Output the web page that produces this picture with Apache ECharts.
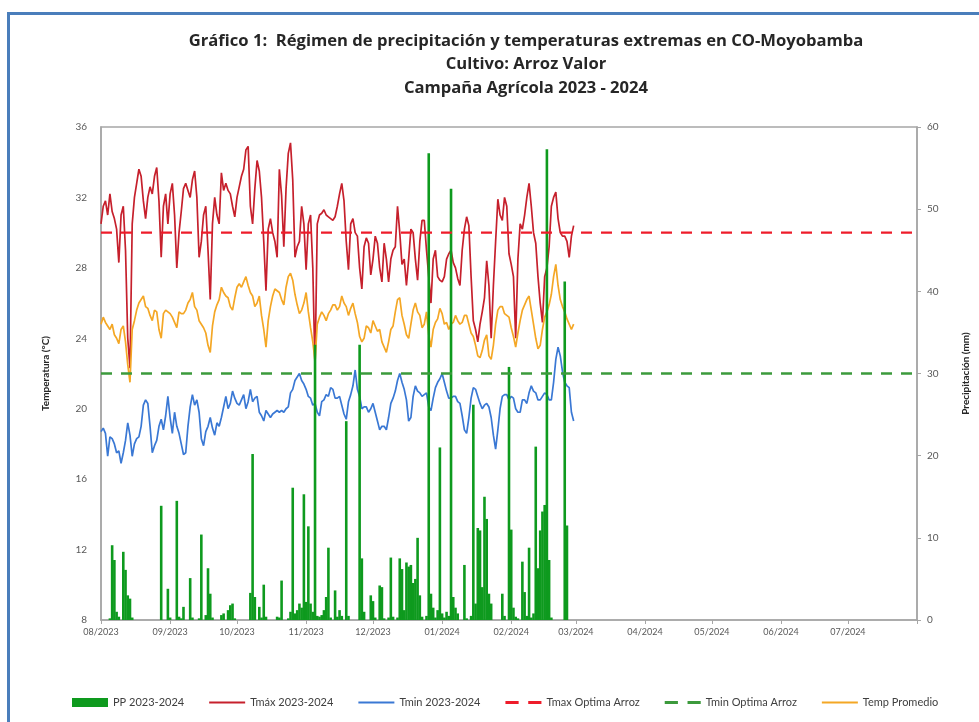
<!DOCTYPE html>
<html>
<head>
<meta charset="utf-8">
<title>Gráfico 1 - CO-Moyobamba</title>
<script src="https://cdn.jsdelivr.net/npm/echarts@6/dist/echarts.min.js"></script>
<style>
  html, body { margin: 0; padding: 0; background: #fff; }
  #chart { width: 979px; height: 722px; }
</style>
</head>
<body>
<div id="chart"></div>
<script>
// daily series from 01/08/2023 to 29/02/2024
const tmax = [
  30.5,31.5,31.8,31.0,32.2,31.2,30.8,30.2,28.3,31.0,
  31.5,29.0,24.0,22.3,30.5,32.0,32.8,33.6,33.2,31.8,
  30.8,32.0,32.6,32.2,33.2,33.7,31.8,28.6,31.5,32.2,
  30.5,32.2,32.8,31.0,28.0,30.0,31.2,32.5,32.8,32.4,
  32.0,33.0,33.5,32.0,28.6,29.5,31.0,31.5,29.0,26.2,
  30.5,32.0,31.0,30.5,33.4,32.4,32.8,32.4,32.2,31.5,
  30.9,32.0,32.6,33.2,33.6,34.7,34.9,31.5,30.5,32.5,
  34.1,33.5,32.0,29.5,26.7,30.2,30.8,30.0,29.5,28.6,
  33.6,32.1,29.2,32.5,34.5,35.1,33.0,28.6,29.2,29.5,
  31.5,30.5,27.9,30.5,31.0,28.0,22.2,30.5,31.0,31.1,
  31.3,31.0,30.9,30.8,30.7,30.9,31.5,32.2,32.8,31.8,
  29.5,27.9,30.5,30.8,30.0,29.8,28.0,26.8,29.2,29.7,
  29.4,27.6,28.5,29.8,29.4,28.0,27.2,29.4,28.5,27.2,
  28.5,29.0,29.2,31.5,30.0,28.2,28.5,27.0,28.5,30.2,
  30.0,28.5,27.3,29.5,30.7,30.7,29.0,27.5,26.0,28.5,
  29.0,27.5,27.3,27.2,27.5,28.5,28.8,29.0,28.3,28.0,
  27.4,27.0,29.0,30.2,30.9,30.4,27.5,25.0,24.5,23.8,
  24.8,25.5,26.3,28.4,27.0,24.0,27.0,29.5,31.9,31.0,
  30.7,32.0,31.5,28.8,28.2,27.5,24.0,28.5,30.5,30.2,
  31.0,32.0,32.8,31.5,30.0,29.4,27.5,26.0,24.9,27.5,
  28.0,29.2,31.5,32.0,32.3,30.8,30.0,29.8,29.8,29.5,
  28.6,29.8,30.4
];

const tmin = [
  18.7,18.9,18.6,17.3,18.4,18.3,18.0,17.5,17.6,16.9,
  17.5,18.2,19.2,18.5,17.3,18.0,18.3,18.4,19.0,20.2,
  20.5,20.3,19.0,17.5,17.9,18.2,19.0,19.4,18.8,19.6,
  20.7,19.5,18.6,19.8,19.0,18.6,18.0,17.4,17.5,19.0,
  20.1,20.8,20.2,20.5,19.8,18.3,17.9,18.7,19.0,19.5,
  18.9,18.5,19.2,19.0,19.5,20.1,20.7,20.0,20.3,21.0,
  20.6,20.3,20.2,20.5,20.8,20.0,20.4,21.1,20.4,20.6,
  20.7,19.8,19.6,19.3,19.9,19.7,19.5,19.7,19.8,19.9,
  19.8,19.9,19.8,20.0,20.1,20.9,21.1,21.6,21.8,22.0,
  21.6,21.4,21.1,20.7,20.6,20.2,20.3,19.8,19.6,20.4,
  20.5,20.8,20.7,21.2,21.1,20.6,20.6,20.7,20.2,19.7,
  19.4,20.4,20.8,21.3,22.2,21.1,20.7,20.0,20.1,20.1,
  19.8,20.0,20.3,19.8,19.3,18.8,19.0,19.0,18.8,19.5,
  20.3,20.6,21.0,21.6,22.0,21.5,21.1,20.5,19.3,19.5,
  20.7,21.3,21.0,20.9,20.7,20.8,20.9,20.1,19.9,20.6,
  21.2,21.5,21.7,22.0,21.5,21.0,20.6,20.6,20.7,20.7,
  20.4,20.3,19.6,18.8,18.6,19.5,20.6,21.2,21.1,20.7,
  20.3,20.0,20.2,20.3,20.1,19.5,18.5,17.7,18.8,20.0,
  20.7,20.8,20.8,20.5,20.7,20.6,20.0,19.8,19.8,20.5,
  20.5,20.3,20.9,21.3,21.0,20.9,20.5,20.5,20.7,20.9,
  20.8,20.5,20.5,21.5,22.8,23.5,23.0,22.1,21.5,21.3,
  21.2,19.8,19.3
];

const tprom = [
  24.8,25.2,24.9,24.7,24.5,24.8,24.2,24.0,23.7,24.5,
  24.7,23.8,22.5,21.5,24.5,25.0,25.6,26.0,26.2,26.4,
  25.8,25.7,25.3,25.0,25.6,25.5,24.5,24.0,25.4,25.6,
  25.5,25.4,25.2,24.9,24.6,25.5,25.4,25.4,25.6,26.0,
  26.2,26.6,25.8,25.6,25.0,24.8,24.6,24.3,23.6,23.2,
  24.7,25.5,25.9,26.2,26.9,26.6,26.4,26.3,25.8,25.6,
  26.3,26.9,27.1,26.9,27.2,27.5,27.0,26.6,26.4,25.8,
  26.0,26.4,25.3,24.5,23.5,25.0,25.8,26.4,26.8,26.7,
  26.6,26.2,25.9,26.9,27.5,27.7,27.3,26.5,25.9,25.4,
  25.6,26.0,26.6,25.5,24.6,23.8,22.7,24.8,25.2,25.5,
  25.3,25.0,25.4,25.6,25.9,25.9,25.6,25.8,26.4,26.0,
  25.8,25.3,25.7,26.0,25.4,24.9,24.1,23.8,24.0,24.7,
  24.6,24.3,25.0,24.7,24.4,24.5,23.8,23.5,23.2,23.8,
  24.5,24.7,25.5,26.2,26.3,25.3,24.8,24.2,24.0,24.8,
  25.6,26.0,25.5,25.3,24.6,24.8,25.5,24.2,23.5,24.5,
  24.9,25.1,25.7,25.4,24.8,24.9,24.5,24.8,24.9,25.3,
  25.0,24.8,24.9,25.3,25.3,24.8,24.3,24.1,23.6,23.0,
  22.9,23.3,23.9,24.2,23.0,22.8,23.6,24.8,25.6,25.8,
  25.8,25.4,25.3,25.2,24.6,24.1,23.5,24.3,25.0,25.6,
  25.9,26.2,26.4,25.6,24.8,24.0,23.4,23.6,24.5,25.2,
  25.5,25.9,26.5,27.5,28.2,27.0,26.2,25.8,25.5,25.1,
  24.8,24.5,24.8
];

const pp = [
  0,0,0,0,0.2,9.1,7.3,1.0,0.4,0,
  8.3,6.1,3.0,2.6,0.3,0,0,0,0,0,
  0,0,0,0,0,0,0,13.9,0,0,
  3.8,0.3,0,0,14.5,0.4,0.2,1.6,0,0,
  5.1,0.3,0,0,0.2,10.4,0,0.6,6.3,3.2,
  0.3,0,0,0,0.6,0.8,0,1.2,1.8,2.0,
  0.2,0,0,0,0,0,0,3.3,20.2,2.8,
  0,1.6,0.3,4.3,0.4,0,0,0,0,0.4,
  0.3,4.8,0,0,0.2,1.0,16.1,0.8,1.2,2.0,
  1.5,15.3,2.2,11.4,2.0,1.0,33.5,0.5,0.4,0.6,
  1.2,2.8,8.8,0.3,0,3.6,0.4,1.2,0.5,0,
  24.2,0.5,0,0,0,0,33.5,7.5,1.0,0,
  0,3.0,2.3,0.3,0,4.2,4.0,0.2,0,0.3,
  7.6,0.4,0,0.3,7.5,6.2,1.2,7.0,6.5,6.7,
  4.5,5.0,10.0,3.0,0.4,0,0.5,56.8,3.2,1.5,
  0.3,1.2,21.0,0.8,0.3,1.0,0.5,52.5,2.8,1.5,
  0.8,0,0,6.7,0.2,0,0.5,26.2,2.0,11.2,
  10.9,4.0,15.0,12.3,3.2,2.0,0,0,0,0,
  3.2,0.5,0,30.8,11.0,1.5,0.4,0.2,0,7.1,
  3.4,0.5,8.8,0.3,0.8,21.1,6.3,10.9,13.2,14.0,
  57.3,7.3,0.3,0,0,0,0,0,41.2,11.5,
  0,0,0
];

const tmaxOptima = 30;
const tminOptima = 22;

const monthLabels = ['08/2023','09/2023','10/2023','11/2023','12/2023','01/2024',
  '02/2024','03/2024','04/2024','05/2024','06/2024','07/2024'];

const toDate = lbl => {
  const [m, y] = lbl.split('/').map(Number);
  return new Date(y, m - 1, 1).getTime();
};
const monthTicks = monthLabels.map(toDate);
const axisStart = monthTicks[0];
const axisEnd = new Date(2024, 7, 1).getTime();

const days = tmax.map((_, i) => new Date(2023, 7, 1 + i).getTime());
const pair = arr => arr.map((v, i) => [days[i], v]);

const font = 'Lato, "Liberation Sans", sans-serif';
const titleFont = 'bold 16.6px "Open Sans", "Liberation Sans", sans-serif';
// legend icons: plain stroke and dashed stroke
const solidIcon = 'path://M0,0H36V2.2H0Z';
const dashIcon = 'path://M0,0H11V2.6H0Z M19,0H30V2.6H19Z';

const chart = echarts.init(document.getElementById('chart'), null, { renderer: 'canvas' });

chart.setOption({
  backgroundColor: '#ffffff',
  animation: false,
  textStyle: { fontFamily: font },
  graphic: [
    {
      type: 'rect', z: -10, silent: true,
      shape: { x: 8.5, y: 13.5, width: 1200, height: 1000 },
      style: { fill: 'none', stroke: '#4a7ebb', lineWidth: 3 }
    },
    { type: 'text', x: 526, y: 41, style: { text: 'Gráfico 1:  Régimen de precipitación y temperaturas extremas en CO-Moyobamba', textAlign: 'center', textVerticalAlign: 'middle', font: titleFont, fill: '#262626' } },
    { type: 'text', x: 526, y: 64, style: { text: 'Cultivo: Arroz Valor', textAlign: 'center', textVerticalAlign: 'middle', font: titleFont, fill: '#262626' } },
    { type: 'text', x: 526, y: 88, style: { text: 'Campaña Agrícola 2023 - 2024', textAlign: 'center', textVerticalAlign: 'middle', font: titleFont, fill: '#262626' } }
  ],
  grid: {
    left: 101, right: 61, top: 127, bottom: 102,
    show: true, borderColor: '#a6a6a6', borderWidth: 1.5, backgroundColor: 'transparent'
  },
  legend: {
    bottom: 9,
    left: 67,
    itemWidth: 36,
    itemHeight: 9,
    itemGap: 25,
    textStyle: { fontSize: 11, color: '#404040', fontFamily: font },
    data: [
      { name: 'PP 2023-2024', icon: 'rect' },
      { name: 'Tmáx 2023-2024', icon: solidIcon },
      { name: 'Tmin 2023-2024', icon: solidIcon },
      { name: 'Tmax Optima Arroz', icon: dashIcon },
      { name: 'Tmin Optima Arroz', icon: dashIcon },
      { name: 'Temp Promedio', icon: solidIcon }
    ]
  },
  xAxis: {
    type: 'value',
    min: axisStart,
    max: axisEnd,
    axisLine: { lineStyle: { color: '#a6a6a6', width: 1.5 } },
    axisTick: { show: true, customValues: monthTicks.concat([axisEnd]), length: 4, lineStyle: { color: '#a6a6a6' } },
    splitLine: { show: false },
    axisLabel: {
      customValues: monthTicks,
      fontSize: 9,
      color: '#595959',
      margin: 8,
      formatter: v => monthLabels[monthTicks.indexOf(v)] || ''
    }
  },
  yAxis: [
    {
      type: 'value',
      min: 8, max: 36, interval: 4,
      name: 'Temperatura (°C)',
      nameLocation: 'middle',
      nameRotate: 90,
      nameGap: 50,
      nameTextStyle: { fontSize: 10, fontWeight: 'bold', color: '#262626' },
      axisLine: { show: true, lineStyle: { color: '#a6a6a6', width: 1.5 } },
      axisTick: { show: false },
      splitLine: { show: false },
      axisLabel: { fontSize: 10, color: '#595959', margin: 14 }
    },
    {
      type: 'value',
      min: 0, max: 60, interval: 10,
      position: 'right',
      name: 'Precipitación (mm)',
      nameLocation: 'middle',
      nameRotate: 90,
      nameGap: 44,
      nameTextStyle: { fontSize: 10, fontWeight: 'bold', color: '#262626' },
      axisLine: { show: true, lineStyle: { color: '#a6a6a6', width: 1.5 } },
      axisTick: { show: true, length: 4, lineStyle: { color: '#a6a6a6' } },
      splitLine: { show: false },
      axisLabel: { fontSize: 10, color: '#595959', margin: 10 }
    }
  ],
  series: [
    {
      name: 'PP 2023-2024',
      type: 'bar',
      yAxisIndex: 1,
      barWidth: 2.6,
      z: 3,
      itemStyle: { color: '#0e9a1e' },
      data: pair(pp)
    },
    {
      name: 'Tmáx 2023-2024',
      type: 'line',
      symbol: 'none',
      z: 2,
      lineStyle: { color: '#c6202c', width: 1.7 },
      itemStyle: { color: '#c6202c' },
      data: pair(tmax)
    },
    {
      name: 'Tmin 2023-2024',
      type: 'line',
      symbol: 'none',
      z: 2,
      lineStyle: { color: '#3a78d4', width: 1.7 },
      itemStyle: { color: '#3a78d4' },
      data: pair(tmin)
    },
    {
      name: 'Tmax Optima Arroz',
      type: 'line',
      symbol: 'none',
      z: 4,
      lineStyle: { color: '#ee1c2a', width: 2.4, type: [11, 9] },
      itemStyle: { color: '#ee1c2a' },
      data: [[axisStart, tmaxOptima], [axisEnd, tmaxOptima]]
    },
    {
      name: 'Tmin Optima Arroz',
      type: 'line',
      symbol: 'none',
      z: 4,
      lineStyle: { color: '#3c9a3c', width: 2.4, type: [11, 9] },
      itemStyle: { color: '#3c9a3c' },
      data: [[axisStart, tminOptima], [axisEnd, tminOptima]]
    },
    {
      name: 'Temp Promedio',
      type: 'line',
      symbol: 'none',
      z: 2,
      lineStyle: { color: '#f4a725', width: 1.7 },
      itemStyle: { color: '#f4a725' },
      data: pair(tprom)
    }
  ]
});
</script>
</body>
</html>
